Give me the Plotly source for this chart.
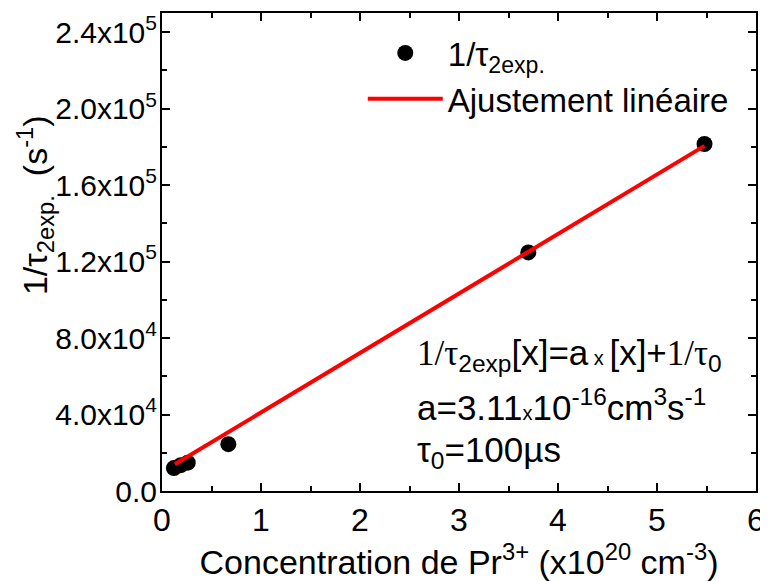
import plotly.graph_objects as go

# Data
conc = [0.12, 0.19, 0.26, 0.67, 3.70, 5.48]          # x10^20 cm^-3
rate = [12000, 13500, 14800, 24500, 124800, 181500]  # s^-1
fit_x = [0.13, 5.48]
fit_y = [14000, 180500]

y_tickvals = [0, 40000, 80000, 120000, 160000, 200000, 240000]
y_ticktext = ["0.0", "4.0x10<sup>4</sup>", "8.0x10<sup>4</sup>", "1.2x10<sup>5</sup>",
              "1.6x10<sup>5</sup>", "2.0x10<sup>5</sup>", "2.4x10<sup>5</sup>"]
x_tickvals = [0, 1, 2, 3, 4, 5, 6]

FONT = "Liberation Sans, Arial, sans-serif"

fig = go.Figure()
fig.add_trace(go.Scatter(x=conc, y=rate, mode="markers",
                         marker=dict(color="black", size=16),
                         name="1/τ<sub>2exp.</sub>"))
fig.add_trace(go.Scatter(x=fit_x, y=fit_y, mode="lines",
                         line=dict(color="#ff0000", width=4),
                         name="Ajustement linéaire"))

axis_common = dict(showline=True, linecolor="black", linewidth=2, mirror="ticks",
                   ticks="inside", ticklen=8, tickwidth=1.5, tickcolor="black",
                   showgrid=False, zeroline=False, automargin=False)

fig.update_xaxes(range=[0, 6], tickvals=x_tickvals,
                 tickfont=dict(family=FONT, size=32, color="black"),
                 minor=dict(ticks="inside", ticklen=5, dtick=0.5, tickcolor="black", tickwidth=1.5),
                 title=dict(text="Concentration de Pr<sup>3+</sup> (x10<sup>20</sup> cm<sup>-3</sup>)",
                            font=dict(family=FONT, size=34, color="black"), standoff=2),
                 **axis_common)
fig.update_yaxes(range=[0, 250000], tickvals=y_tickvals, ticktext=y_ticktext,
                 tickfont=dict(family=FONT, size=30, color="black"),
                 ticklabelstandoff=-3,
                 minor=dict(ticks="inside", ticklen=5, dtick=20000, tickcolor="black", tickwidth=1.5),
                 **axis_common)

# y-axis title (placed above centre, as in the reference)
fig.add_annotation(xref="paper", yref="paper", x=-0.214, y=0.598, xanchor="center", yanchor="middle",
                   showarrow=False, textangle=-90, borderpad=0,
                   font=dict(family=FONT, size=34, color="black"),
                   text="1/τ<sub>2exp.</sub>  (s<sup>-1</sup>)")

ann_font = dict(family=FONT, size=35, color="black")
fig.add_annotation(xref="paper", yref="paper", x=0.426, y=0.2845, xanchor="left", yanchor="middle",
                   showarrow=False, font=ann_font,
                   text="<span style='font-family:Liberation Serif'>1/τ</span><sub>2exp</sub>[x]=a<span style='font-size:20px'> x </span>[x]+<span style='font-family:Liberation Serif'>1/τ</span><sub>0</sub>")
fig.add_annotation(xref="paper", yref="paper", x=0.426, y=0.18, xanchor="left", yanchor="middle",
                   showarrow=False, font=ann_font,
                   text="a=3.11<span style='font-size:20px'>x</span>10<sup>-16</sup>cm<sup>3</sup>s<sup>-1</sup>")
fig.add_annotation(xref="paper", yref="paper", x=0.426, y=0.082, xanchor="left", yanchor="middle",
                   showarrow=False, font=ann_font,
                   text="τ<sub>0</sub>=100µs")

fig.update_layout(width=760, height=573, plot_bgcolor="white", paper_bgcolor="white",
                  margin=dict(l=154, r=12, t=5, b=90),
                  font=dict(family=FONT, color="black"),
                  showlegend=True,
                  legend=dict(x=0.338, y=0.975, xanchor="left", yanchor="top",
                              bgcolor="rgba(0,0,0,0)", font=dict(family=FONT, size=33),
                              itemwidth=75))
fig.write_html("out.html")
